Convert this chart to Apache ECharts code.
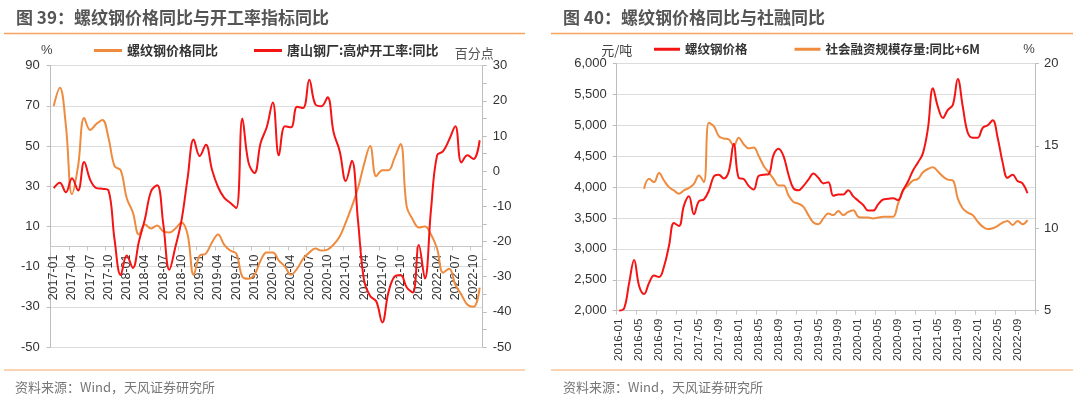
<!DOCTYPE html>
<html>
<head>
<meta charset="utf-8">
<script src="https://cdn.jsdelivr.net/npm/echarts@6/dist/echarts.min.js"></script>
<style>
  html, body { margin: 0; padding: 0; background: #fff; }
  #main { width: 1080px; height: 398px; }
</style>
</head>
<body>
<div id="main"></div>
<script>
  // month labels
  function monthList(y0, m0, n) {
    var out = [];
    for (var k = 0; k < n; k++) {
      var m = m0 - 1 + k;
      var y = y0 + Math.floor(m / 12);
      var mm = (m % 12) + 1;
      out.push(y + '-' + (mm < 10 ? '0' + mm : mm));
    }
    return out;
  }
  var months39 = monthList(2017, 1, 71);   // 2017-01 .. 2022-11
  var months40 = monthList(2016, 1, 84);   // 2016-01 .. 2022-12

  // 图39 螺纹钢价格同比 (%)，左轴
  var rebarYoY = [70, 79, 60, 26, 40, 64, 58, 61, 63, 54, 40, 38, 24, 17, 6, 11, 9, 10.5, 7.5, 7,
    9, 12, 6, -14, -4.5, -3.5, 2, 6, 1, -2, -3.5, -15, -16, -14, -7, -3, -3, -7, -10, -14,
    -11, -6, -3, -1, -2, -1.5, 1, 5, 12, 20, 29, 41, 50, 35, 38, 38, 44, 51, 20, 13.5,
    9.5, 10, 6, -1, -13, -11, -19, -24, -29, -30, -20.5];
  // 图39 唐山钢厂:高炉开工率:同比 (百分点)，右轴
  var tangshanRate = [-4.8, -3.3, -6, -2, -5.5, 2.6, -2.5, -4.8, -5, -5.5, -19.5, -29.5, -24, -27.5, -20, -13.5, -5.7, -4, -15, -28,
    -21.5, -14, -2, 9, 4.3, 7.5, 0.5, -4.5, -7.5, -9, -10.5, 15, 2.5, -0.5, 8, 12.5, 19.5, 4.5, 12.8, 12.5,
    18.3, 18, 26, 19, 18.5, 21, 11, 5.7, -2.8, 3, -14, -31, -35.5, -37, -43, -34.5, -30, -29.5, -33, -34.5,
    -21, -30.5, -11, 4.5, 5.7, 9, 12.8, 2.5, 4.5, 3.5, 8.8];

  // 图40 螺纹钢价格 (元/吨)，左轴
  var rebarPrice = [2000, 2040, 2450, 2820, 2400, 2270, 2450, 2570, 2545, 2715, 3050, 3420, 3370, 3700, 3850, 3560, 3770, 3800, 3940, 4170,
    4200, 4140, 4250, 4700, 4150, 4130, 4020, 3960, 4180, 4200, 4210, 4520, 4620, 4500, 4200, 3980, 3950, 4020, 4120, 4220,
    4150, 4060, 4080, 3860, 3880, 3880, 3950, 3850, 3780, 3710, 3620, 3620, 3720, 3800, 3810, 3820, 3790, 3950, 4090, 4270,
    4400, 4550, 4950, 5600, 5300, 5120, 5250, 5330, 5750, 5300, 4880, 4800, 4800, 4960, 5000, 5080, 4800, 4400, 4150, 4200,
    4100, 4060, 3900];
  // 图40 社会融资规模存量:同比+6M (%)，右轴
  var socialFinancing = [null, null, null, null, null, 12.4, 13.0, 12.8, 13.35, 12.9, 12.5, 12.3, 12.1, 12.3, 12.45, 12.7, 13.2, 12.8, 16.4, 16.2,
    15.6, 15.45, 15.4, 15.0, 15.5, 15.1, 14.85, 14.9, 14.4, 13.8, 13.4, 13.0, 12.6, 12.6, 12.0, 11.6, 11.5, 11.3, 10.8, 10.35,
    10.25, 10.6, 10.9, 10.8, 11.05, 10.8, 11.0, 11.1, 10.7, 10.65, 10.65, 10.6, 10.65, 10.7, 10.7, 10.7, 11.5, 12.3, 12.6, 12.9,
    13.0, 13.4, 13.6, 13.7, 13.45, 13.15, 12.95, 12.9, 11.8, 11.2, 10.95, 10.8, 10.4, 10.1, 9.95, 10.0, 10.15, 10.35, 10.45, 10.2,
    10.45, 10.25, 10.5];

  var ORANGE = '#EE8B3F';
  var RED = '#F51414';
  var FONT = 'Arial, "Liberation Sans", "Noto Sans CJK SC", sans-serif';
  var CJK = '"Noto Sans CJK SC", sans-serif';

  var axisLineStyle = { lineStyle: { color: '#bdbdbd', width: 1 } };
  var axisTickStyle = { show: true, length: 4, lineStyle: { color: '#bdbdbd' } };
  var yLabel = { color: '#333', fontSize: 13, fontFamily: FONT };

  var myChart = echarts.init(document.getElementById('main'), null, { renderer: 'canvas' });
  var option = {
    backgroundColor: '#fff',
    animation: false,
    title: [
      { text: '图 39：螺纹钢价格同比与开工率指标同比', left: 16, top: 9, padding: 0,
        textStyle: { fontSize: 17, fontWeight: 'bold', color: '#555', fontFamily: CJK } },
      { text: '图 40：螺纹钢价格同比与社融同比', left: 563, top: 9, padding: 0,
        textStyle: { fontSize: 17, fontWeight: 'bold', color: '#555', fontFamily: CJK } },
      { text: '资料来源：Wind，天风证券研究所', left: 15, top: 381, padding: 0,
        textStyle: { fontSize: 13, fontWeight: 'normal', color: '#777', fontFamily: CJK } },
      { text: '资料来源：Wind，天风证券研究所', left: 563, top: 381, padding: 0,
        textStyle: { fontSize: 13, fontWeight: 'normal', color: '#777', fontFamily: CJK } }
    ],
    graphic: [
      { type: 'line', shape: { x1: 4, y1: 33.5, x2: 525, y2: 33.5 }, style: { stroke: '#F5A35E', lineWidth: 1.5 } },
      { type: 'line', shape: { x1: 551, y1: 33.5, x2: 1073, y2: 33.5 }, style: { stroke: '#F5A35E', lineWidth: 1.5 } },
      { type: 'line', shape: { x1: 4, y1: 370, x2: 525, y2: 370 }, style: { stroke: '#F8C49A', lineWidth: 1.5 } },
      { type: 'line', shape: { x1: 551, y1: 370, x2: 1073, y2: 370 }, style: { stroke: '#F8C49A', lineWidth: 1.5 } }
    ],
    legend: [
      { left: 94, top: 44, padding: 0, itemGap: 36, itemWidth: 28, itemHeight: 3, icon: 'rect',
        textStyle: { fontSize: 13, fontWeight: 'bold', color: '#333', fontFamily: CJK },
        data: ['螺纹钢价格同比', '唐山钢厂:高炉开工率:同比'] },
      { left: 654, top: 43, padding: 0, itemGap: 47, itemWidth: 26, itemHeight: 3, icon: 'rect',
        textStyle: { fontSize: 12.5, fontWeight: 'bold', color: '#333', fontFamily: CJK },
        data: ['螺纹钢价格', '社会融资规模存量:同比+6M'] }
    ],
    grid: [
      { left: 50.7, top: 65.7, width: 432, height: 281.3 },
      { left: 616.7, top: 63.5, width: 418.3, height: 247.2 }
    ],
    xAxis: [
      {
        // axis drawn at the 0 level of the left value axis
        type: 'category', gridIndex: 0, data: months39, boundaryGap: true,
        position: 'bottom', offset: -100.5,
        axisLine: { show: true, onZero: false, lineStyle: { color: '#c8c8c8' } },
        axisTick: { show: true, interval: 2, length: 4, lineStyle: { color: '#c8c8c8' } },
        axisLabel: { interval: 2, rotate: 90, margin: 8, color: '#333', fontSize: 12.5, fontFamily: FONT },
        splitLine: { show: false }
      },
      {
        type: 'category', gridIndex: 1, data: months40, boundaryGap: true,
        axisLine: { show: true, onZero: false, lineStyle: { color: '#c8c8c8' } },
        axisTick: { show: true, interval: 3, length: 4, lineStyle: { color: '#c8c8c8' } },
        axisLabel: { interval: 3, rotate: 90, margin: 8, color: '#333', fontSize: 11.5, fontFamily: FONT },
        splitLine: { show: false }
      }
    ],
    yAxis: [
      {
        type: 'value', gridIndex: 0, position: 'left', min: -50, max: 90, interval: 20,
        name: '%', nameLocation: 'end', nameGap: 9,
        nameTextStyle: { color: '#444', fontSize: 13, fontFamily: FONT, padding: [0, 8, 0, 0] },
        axisLine: Object.assign({ show: true }, axisLineStyle), axisTick: axisTickStyle,
        axisLabel: Object.assign({ margin: 11 }, yLabel),
        splitLine: { show: true, lineStyle: { color: '#dcdcdc', width: 1 } }
      },
      {
        type: 'value', gridIndex: 0, position: 'right', min: -50, max: 30, interval: 5,
        name: '百分点', nameLocation: 'end', nameGap: 6,
        nameTextStyle: { color: '#555', fontSize: 13, fontFamily: CJK, padding: [0, 17, 0, 0] },
        axisLine: Object.assign({ show: true }, axisLineStyle), axisTick: axisTickStyle,
        axisLabel: Object.assign({ margin: 10, formatter: function (v) { return v % 10 === 0 ? v : ''; } }, yLabel),
        splitLine: { show: false }
      },
      {
        type: 'value', gridIndex: 1, position: 'left', min: 2000, max: 6000, interval: 500,
        name: '元/吨', nameLocation: 'end', nameGap: 7,
        nameTextStyle: { color: '#444', fontSize: 13, fontFamily: CJK },
        axisLine: Object.assign({ show: true }, axisLineStyle), axisTick: axisTickStyle,
        axisLabel: Object.assign({ margin: 10, formatter: function (v) { return echarts.format.addCommas(v); } }, yLabel),
        splitLine: { show: true, lineStyle: { color: '#dcdcdc', width: 1 } }
      },
      {
        type: 'value', gridIndex: 1, position: 'right', min: 5, max: 20, interval: 5,
        name: '%', nameLocation: 'end', nameGap: 8,
        nameTextStyle: { color: '#444', fontSize: 13, fontFamily: FONT, padding: [0, 12, 0, 0] },
        axisLine: Object.assign({ show: true }, axisLineStyle), axisTick: axisTickStyle,
        axisLabel: Object.assign({ margin: 9 }, yLabel),
        splitLine: { show: false }
      }
    ],
    series: [
      { name: '螺纹钢价格同比', type: 'line', xAxisIndex: 0, yAxisIndex: 0, data: rebarYoY,
        smooth: 0.4, symbol: 'none', color: ORANGE, lineStyle: { color: ORANGE, width: 2 } },
      { name: '唐山钢厂:高炉开工率:同比', type: 'line', xAxisIndex: 0, yAxisIndex: 1, data: tangshanRate,
        smooth: 0.4, symbol: 'none', color: RED, lineStyle: { color: RED, width: 2 } },
      { name: '社会融资规模存量:同比+6M', type: 'line', xAxisIndex: 1, yAxisIndex: 3, data: socialFinancing,
        smooth: 0.4, symbol: 'none', color: ORANGE, lineStyle: { color: ORANGE, width: 2 } },
      { name: '螺纹钢价格', type: 'line', xAxisIndex: 1, yAxisIndex: 2, data: rebarPrice,
        smooth: 0.4, symbol: 'none', color: RED, lineStyle: { color: RED, width: 2 } }
    ]
  };
  myChart.setOption(option);
</script>
</body>
</html>
